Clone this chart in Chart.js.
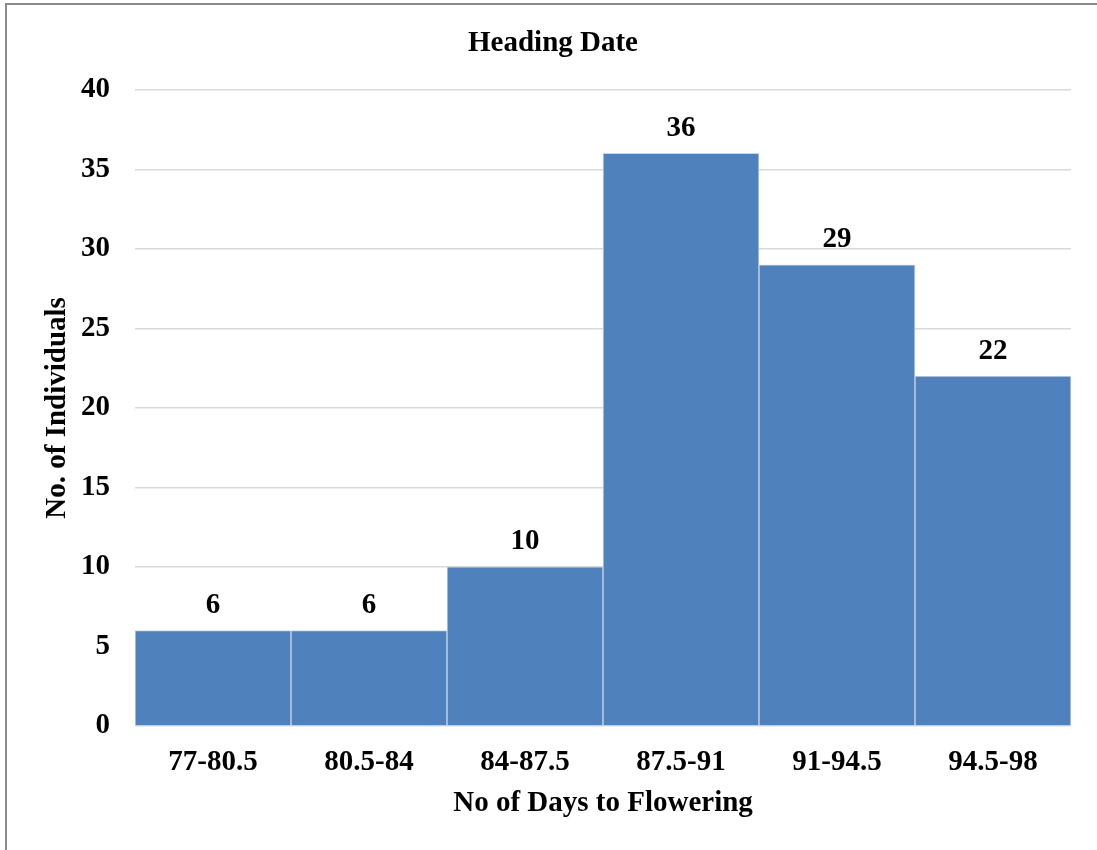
<!DOCTYPE html>
<html>
<head>
<meta charset="utf-8">
<title>Heading Date</title>
<script src="https://cdn.jsdelivr.net/npm/chart.js@4/dist/chart.umd.min.js"></script>
<style>
  html, body { margin: 0; padding: 0; background: #ffffff; overflow: hidden; }
  #wrap { position: relative; width: 1097px; height: 850px; }
  #chart { position: absolute; left: 0; top: 0; }
  #frame {
    position: absolute; left: 5px; top: 3px; width: 1200px; height: 1000px;
    border-left: 2px solid #8a8a8a; border-top: 2px solid #8a8a8a;
    pointer-events: none; box-sizing: border-box;
  }
</style>
</head>
<body>
<div id="wrap">
  <canvas id="chart" width="1097" height="850"></canvas>
  <div id="frame"></div>
</div>
<script>
// Frequency of heading dates, grouped into 3.5-day classes
const categories = ['77-80.5', '80.5-84', '84-87.5', '87.5-91', '91-94.5', '94.5-98'];
const individuals = [6, 6, 10, 36, 29, 22];
const yTicks = [0, 5, 10, 15, 20, 25, 30, 35, 40];

const FONT_FAMILY = '"Liberation Serif", "Times New Roman", serif';
const FONT = { family: FONT_FAMILY, size: 29, weight: 'bold' };

// Writes each bar's count just above its top edge
const barValueLabels = {
  id: 'barValueLabels',
  afterDatasetsDraw(chart) {
    const ctx = chart.ctx;
    const meta = chart.getDatasetMeta(0);
    const values = chart.data.datasets[0].data;
    ctx.save();
    ctx.font = 'bold 29px ' + FONT_FAMILY;
    ctx.fillStyle = '#000000';
    ctx.textAlign = 'center';
    ctx.textBaseline = 'middle';
    meta.data.forEach((bar, i) => {
      ctx.fillText(String(values[i]), bar.x, bar.y - 25);
    });
    ctx.restore();
  }
};

new Chart(document.getElementById('chart'), {
  type: 'bar',
  data: {
    labels: categories,
    datasets: [{
      data: individuals,
      backgroundColor: '#4f81bd',
      borderColor: '#c9d7ea',
      borderWidth: 1,
      borderSkipped: 'bottom',
      barPercentage: 1,
      categoryPercentage: 1
    }]
  },
  options: {
    responsive: false,
    animation: false,
    layout: { padding: { left: 17, right: 8, top: 0, bottom: 0 } },
    plugins: {
      legend: { display: false },
      tooltip: { enabled: false },
      title: {
        display: true,
        text: 'Heading Date',
        color: '#000000',
        font: FONT,
        padding: { top: 26, bottom: 29 }
      }
    },
    scales: {
      x: {
        grid: { display: false, drawTicks: false },
        border: { display: false },
        ticks: { color: '#000000', font: FONT, padding: 19, maxRotation: 0 },
        title: {
          display: true,
          text: 'No of Days to Flowering',
          color: '#000000',
          font: FONT,
          padding: { top: 0, bottom: 29 }
        },
        afterFit(scale) { scale.height = 124; }
      },
      y: {
        min: 0,
        max: 40,
        afterBuildTicks(scale) { scale.ticks = yTicks.map(v => ({ value: v })); },
        grid: { color: '#d9d9d9', lineWidth: 1.5, drawTicks: false },
        border: { display: false },
        ticks: { color: '#000000', font: FONT, padding: 25 },
        title: {
          display: true,
          text: 'No. of Individuals',
          color: '#000000',
          font: FONT,
          padding: { top: 23, bottom: 0 }
        },
        afterFit(scale) { scale.width = 118; }
      },
      // empty margin on the right of the plot
      yRight: {
        position: 'right',
        min: 0,
        max: 40,
        grid: { display: false, drawTicks: false },
        border: { display: false },
        ticks: { display: false },
        afterFit(scale) { scale.width = 18; }
      }
    }
  },
  plugins: [barValueLabels]
});
</script>
</body>
</html>
